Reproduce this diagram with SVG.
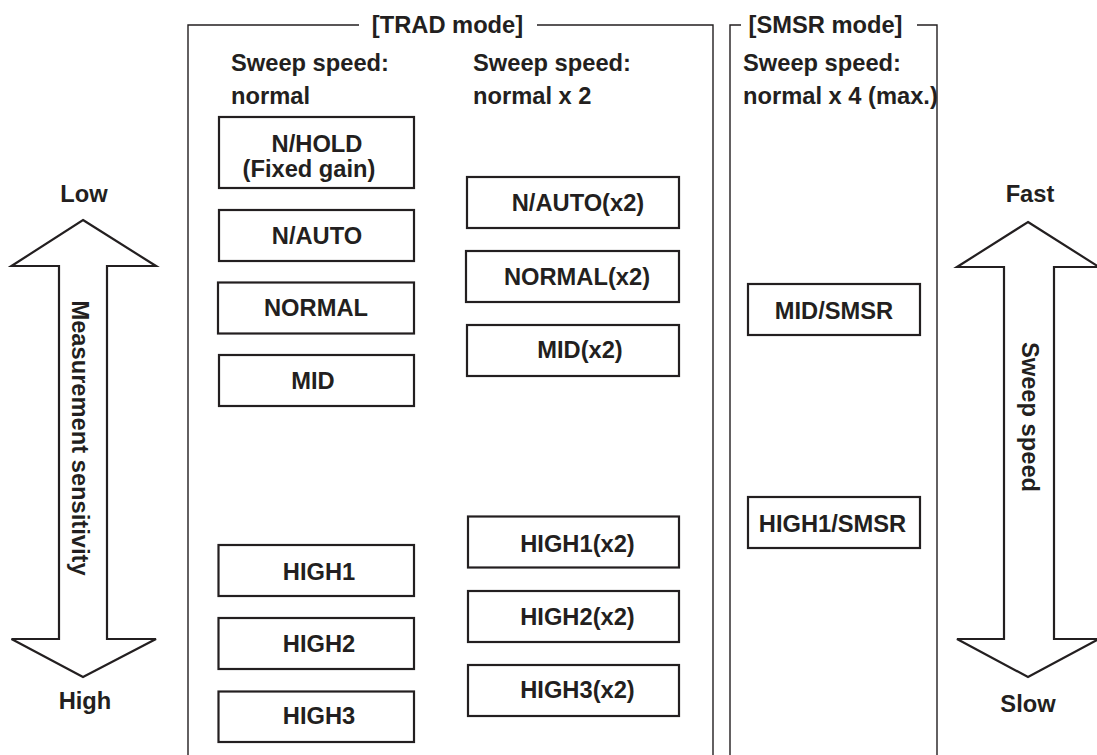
<svg xmlns="http://www.w3.org/2000/svg" width="1097" height="755" viewBox="0 0 1097 755">
<style>
  text { font-family: "Liberation Sans", Arial, sans-serif; font-weight: bold; font-size: 23.7px; fill: #231f20; }
  .c { text-anchor: middle; }
  .box { fill: #ffffff; stroke: #231f20; stroke-width: 2.2; }
  .frame { fill: none; stroke: #231f20; stroke-width: 1.4; }
  .arrow { fill: #ffffff; stroke: #231f20; stroke-width: 2.2; stroke-linejoin: miter; }
</style>
<rect x="0" y="0" width="1097" height="755" fill="#ffffff"/>

<g id="trad-frame">
  <path class="frame" d="M188,755 V25 H359 M537,25 H713 V755"/>
  <text class="c" x="447.5" y="33">[TRAD mode]</text>
  <text x="231" y="71">Sweep speed:</text>
  <text x="231" y="104">normal</text>
  <text x="473" y="71">Sweep speed:</text>
  <text x="473" y="104">normal x 2</text>
</g>

<g id="smsr-frame">
  <path class="frame" d="M730,755 V25 H741 M917,25 H937 V755"/>
  <text class="c" x="825.5" y="33">[SMSR mode]</text>
  <text x="743" y="71">Sweep speed:</text>
  <text x="743" y="104">normal x 4 (max.)</text>
</g>

<g id="sensitivity-arrow">
  <polygon class="arrow" points="83,220 156,266 107,266 107,639 156,639 83,677 11.5,639 59,639 59,266 11.5,266"/>
  <text class="c" x="84" y="202">Low</text>
  <text class="c" x="85" y="709">High</text>
  <text class="c" transform="translate(72,438) rotate(90)">Measurement sensitivity</text>
</g>

<g id="speed-arrow">
  <polygon class="arrow" points="1028,222 1099,267 1054,267 1054,639 1099,639 1028,677 957,639 1004,639 1004,267 957,267"/>
  <text class="c" x="1030" y="202">Fast</text>
  <text class="c" x="1028" y="712">Slow</text>
  <text class="c" transform="translate(1022,417) rotate(90)">Sweep speed</text>
</g>

<g id="n-hold">
  <rect class="box" x="219" y="117" width="195" height="71"/>
  <text class="c" x="317" y="152">N/HOLD</text>
  <text class="c" x="309" y="177">(Fixed gain)</text>
</g>
<g id="n-auto">
  <rect class="box" x="219" y="210" width="195" height="51"/>
  <text class="c" x="317" y="244">N/AUTO</text>
</g>
<g id="normal">
  <rect class="box" x="218" y="282.5" width="196" height="51"/>
  <text class="c" x="316" y="316">NORMAL</text>
</g>
<g id="mid">
  <rect class="box" x="219" y="355" width="195" height="51"/>
  <text class="c" x="313" y="389">MID</text>
</g>
<g id="high1">
  <rect class="box" x="218.5" y="545" width="195.5" height="51"/>
  <text class="c" x="319" y="580">HIGH1</text>
</g>
<g id="high2">
  <rect class="box" x="218.5" y="618" width="195.5" height="51"/>
  <text class="c" x="319" y="652">HIGH2</text>
</g>
<g id="high3">
  <rect class="box" x="218.5" y="691.5" width="195.5" height="50.5"/>
  <text class="c" x="319" y="724">HIGH3</text>
</g>

<g id="n-auto-x2">
  <rect class="box" x="467" y="177" width="212" height="51"/>
  <text class="c" x="578" y="211">N/AUTO(x2)</text>
</g>
<g id="normal-x2">
  <rect class="box" x="466" y="251" width="213" height="51"/>
  <text class="c" x="577" y="285">NORMAL(x2)</text>
</g>
<g id="mid-x2">
  <rect class="box" x="467" y="325" width="212" height="51"/>
  <text class="c" x="580" y="358">MID(x2)</text>
</g>
<g id="high1-x2">
  <rect class="box" x="468" y="516.5" width="211" height="51"/>
  <text class="c" x="577.5" y="552">HIGH1(x2)</text>
</g>
<g id="high2-x2">
  <rect class="box" x="468" y="591" width="211" height="51"/>
  <text class="c" x="577.5" y="625">HIGH2(x2)</text>
</g>
<g id="high3-x2">
  <rect class="box" x="468" y="665" width="211" height="51"/>
  <text class="c" x="577.5" y="698">HIGH3(x2)</text>
</g>

<g id="mid-smsr">
  <rect class="box" x="748" y="284" width="172" height="51"/>
  <text class="c" x="834" y="319">MID/SMSR</text>
</g>
<g id="high1-smsr">
  <rect class="box" x="748" y="497" width="172" height="51"/>
  <text class="c" x="832.5" y="532">HIGH1/SMSR</text>
</g>

<g id="connectors"></g>
</svg>
